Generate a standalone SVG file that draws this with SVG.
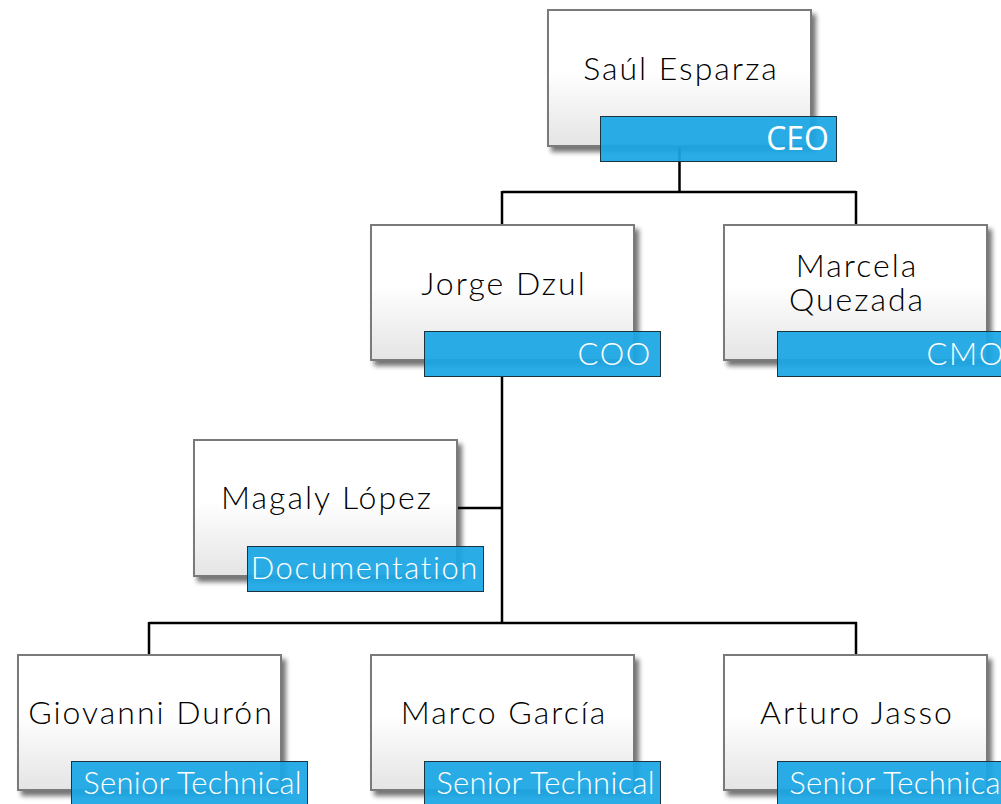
<svg xmlns="http://www.w3.org/2000/svg" width="1001" height="804" viewBox="0 0 1001 804">
<defs>
<linearGradient id="boxg" x1="0" y1="0" x2="0" y2="1">
<stop offset="0" stop-color="#ffffff"/>
<stop offset="0.45" stop-color="#ffffff"/>
<stop offset="1" stop-color="#e4e4e4"/>
</linearGradient>
<filter id="sh" x="-10%" y="-10%" width="130%" height="130%">
<feGaussianBlur in="SourceAlpha" stdDeviation="2.5"/>
<feOffset dx="4" dy="5" result="b"/>
<feComponentTransfer><feFuncA type="linear" slope="0.55"/></feComponentTransfer>
<feMerge><feMergeNode/><feMergeNode in="SourceGraphic"/></feMerge>
</filter>
</defs>
<style>
.box{fill:url(#boxg);stroke:#7a7a7a;stroke-width:2;filter:url(#sh)}
.lab{fill:#1aa6e4;fill-opacity:0.93;stroke:#1c3340;stroke-width:1}
.name{font-family:Lato,"Noto Sans",sans-serif;font-weight:300;font-size:32px;fill:#000;text-anchor:middle;letter-spacing:2px}
.lt{font-family:Lato,"Noto Sans",sans-serif;font-weight:300;font-size:31px;fill:#fff;text-anchor:end;letter-spacing:1.6px}
.st{letter-spacing:0.3px}
.ceo{font-family:"Open Sans",sans-serif;font-size:32px;fill:#fff;text-anchor:end}
.con{fill:none;stroke:#000;stroke-width:2.5}
</style>
<rect width="1001" height="804" fill="#ffffff"/>
<g id="connectors">
<path class="con" d="M679.5 146V192M502 192H856M502 191V225M856 191V225"/>
<path class="con" d="M502 376V623M457 508H503M149 623H857M149 622V655M856 622V655"/>
</g>
<g id="n-saul">
<rect class="box" x="548" y="10" width="263" height="136"/>
<text class="name" x="681" y="80">Saúl Esparza</text>
<rect class="lab" x="600.5" y="116.5" width="236" height="45"/>
<text class="ceo" x="829" y="150">CEO</text>
</g>
<g id="n-jorge">
<rect class="box" x="371" y="225" width="263" height="135"/>
<text class="name" x="504" y="295">Jorge Dzul</text>
<rect class="lab" x="424.5" y="331.5" width="236" height="45"/>
<text class="lt" x="652" y="365">COO</text>
</g>
<g id="n-marcela">
<rect class="box" x="724" y="225" width="263" height="135"/>
<text class="name" x="857" y="277">Marcela</text>
<text class="name" x="857" y="311">Quezada</text>
<rect class="lab" x="777.5" y="331.5" width="236" height="45"/>
<text class="lt" x="1005" y="365">CMO</text>
</g>
<g id="n-magaly">
<rect class="box" x="194" y="440" width="263" height="136"/>
<text class="name" x="327" y="509">Magaly López</text>
<rect class="lab" x="247.5" y="546.5" width="236" height="45"/>
<text class="lt" x="479" y="579">Documentation</text>
</g>
<g id="n-giovanni">
<rect class="box" x="18" y="655" width="263" height="135"/>
<text class="name" x="151" y="724">Giovanni Durón</text>
<rect class="lab" x="71.5" y="761.5" width="236" height="45"/>
<text class="lt st" x="302" y="794">Senior Technical</text>
</g>
<g id="n-marco">
<rect class="box" x="371" y="655" width="263" height="135"/>
<text class="name" x="504" y="724">Marco García</text>
<rect class="lab" x="424.5" y="761.5" width="236" height="45"/>
<text class="lt st" x="655" y="794">Senior Technical</text>
</g>
<g id="n-arturo">
<rect class="box" x="724" y="655" width="263" height="135"/>
<text class="name" x="857" y="724">Arturo Jasso</text>
<rect class="lab" x="777.5" y="761.5" width="236" height="45"/>
<text class="lt st" x="1008" y="794">Senior Technical</text>
</g>
</svg>
